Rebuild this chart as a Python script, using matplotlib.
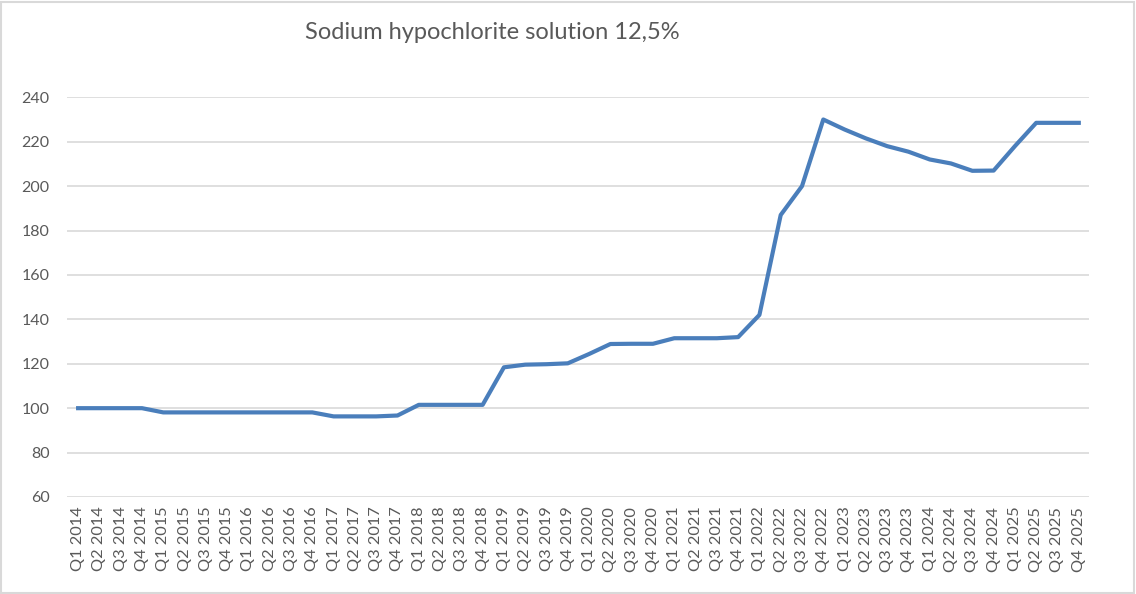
import matplotlib.pyplot as plt
import matplotlib.patches as patches

quarters = [f'Q{q} {y}' for y in range(2014, 2026) for q in range(1, 5)]

prices = [100, 100, 100, 100,
          98.1, 98.1, 98.1, 98.1,
          98.1, 98.1, 98.1, 98.1,
          96.3, 96.3, 96.3, 96.7,
          101.5, 101.5, 101.5, 101.5,
          118.4, 119.6, 119.8, 120.2,
          124.4, 128.9, 129, 129,
          131.5, 131.5, 131.5, 132,
          142, 187, 200, 230,
          225.5, 221.5, 218, 215.5,
          212, 210.2, 206.9, 207,
          218, 228.5, 228.5, 228.5]

plt.rcParams['font.family'] = ['Lato', 'DejaVu Sans']
text_color = '#595959'

fig = plt.figure(figsize=(11.36, 5.94), dpi=100)
ax = fig.add_axes([0.0594, 0.1633, 0.8996, 0.6729])

ax.plot(range(len(prices)), prices, color='#4A7EBB', linewidth=3, solid_joinstyle='round')

ax.set_xlim(-0.5, len(prices) - 0.5)
ax.set_ylim(60, 240)
ax.set_yticks(range(60, 241, 20))
ax.set_xticks(range(len(quarters)))
ax.set_xticklabels(quarters, rotation=90)
ax.tick_params(axis='both', length=0, colors=text_color)
ax.tick_params(axis='y', pad=13, labelsize=11.5)
ax.tick_params(axis='x', pad=7, labelsize=11.8)
ax.grid(axis='y', color='#D9D9D9', linewidth=1.2)
ax.set_axisbelow(True)
for s in ax.spines.values():
    s.set_visible(False)

fig.text(0.433, 0.945, 'Sodium hypochlorite solution 12,5%', ha='center', va='center',
         fontsize=17, color=text_color)

fig.patches.append(patches.Rectangle((0.001, 0.002), 0.997, 0.995, transform=fig.transFigure,
                                     fill=False, edgecolor='#D9D9D9', linewidth=1.5))

fig.savefig('out.png', dpi=100)
